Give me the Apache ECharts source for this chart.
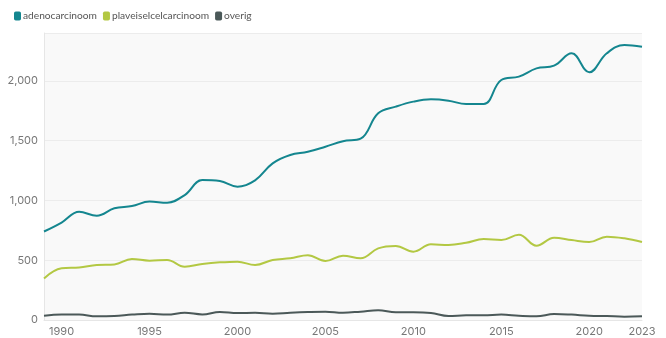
<!DOCTYPE html>
<html><head><meta charset="utf-8">
<script src="https://cdn.jsdelivr.net/npm/echarts@6/dist/echarts.min.js"></script>
<style>html,body{margin:0;padding:0;background:#fff}#c{width:666px;height:338px}</style>
</head><body><div id="c"></div>
<script>
const years = [];
for (let y = 1989; y <= 2023; y++) years.push(String(y));
const adenocarcinoom = [740,815,905,872,934,953,990,981,1045,1171,1162,1115,1168,1310,1380,1407,1449,1495,1516,1728,1784,1826,1845,1834,1806,1806,2007,2035,2104,2127,2230,2071,2230,2299,2285];
const plaveiselcelcarcinoom = [348,432,440,460,465,510,496,502,446,468,482,488,460,502,516,541,493,538,516,599,619,571,633,627,646,677,669,713,621,688,669,652,697,683,652];
const overig = [36,47,46,31,34,45,53,45,61,47,67,58,61,53,61,67,70,61,70,81,64,64,58,33,39,39,45,36,31,50,45,36,33,28,31];
const seriesNames = ['adenocarcinoom','plaveiselcelcarcinoom','overig'];
const colors = ['#14868f','#b3c843','#4b5959'];
const FONT = 'Inter, "Open Sans", sans-serif';
const chart = echarts.init(document.getElementById('c'));
chart.setOption({
  animation: false,
  color: colors,
  textStyle: {fontFamily: FONT},
  legend: {
    left: 9, top: 6, itemWidth: 7, itemHeight: 9, itemGap: 6,
    icon: 'roundRect',
    textStyle: {color: '#555', fontSize: 10.2, fontFamily: 'Lato, sans-serif', padding: [0,0,0,-3]},
    data: seriesNames
  },
  grid: {left: 44, right: 24, top: 33, bottom: 18, show: true, backgroundColor: '#f9f9f9', borderWidth: 0},
  xAxis: {
    type: 'category', data: years, boundaryGap: false,
    axisLine: {lineStyle: {color: '#e6e6e6'}},
    axisTick: {show: false},
    axisLabel: {color: '#777', fontSize: 11, fontFamily: FONT, margin: 6,
      interval: (i, v) => (+v % 5 === 0) || v === '2023'}
  },
  yAxis: {
    type: 'value', min: 0, max: 2400, interval: 500,
    axisLine: {show: true, lineStyle: {color: '#e6e6e6'}},
    axisTick: {show: false},
    axisLabel: {color: '#777', fontSize: 11, fontFamily: FONT, margin: 6, showMaxLabel: false,
      formatter: v => v.toLocaleString('en-US')},
    splitLine: {lineStyle: {color: '#ececec'}}
  },
  series: [
    {name: seriesNames[0], type: 'line', data: adenocarcinoom, smooth: 0.4, showSymbol: false, lineStyle: {width: 2}},
    {name: seriesNames[1], type: 'line', data: plaveiselcelcarcinoom, smooth: 0.4, showSymbol: false, lineStyle: {width: 2}},
    {name: seriesNames[2], type: 'line', data: overig, smooth: 0.4, showSymbol: false, lineStyle: {width: 2}}
  ]
});
</script></body></html>
